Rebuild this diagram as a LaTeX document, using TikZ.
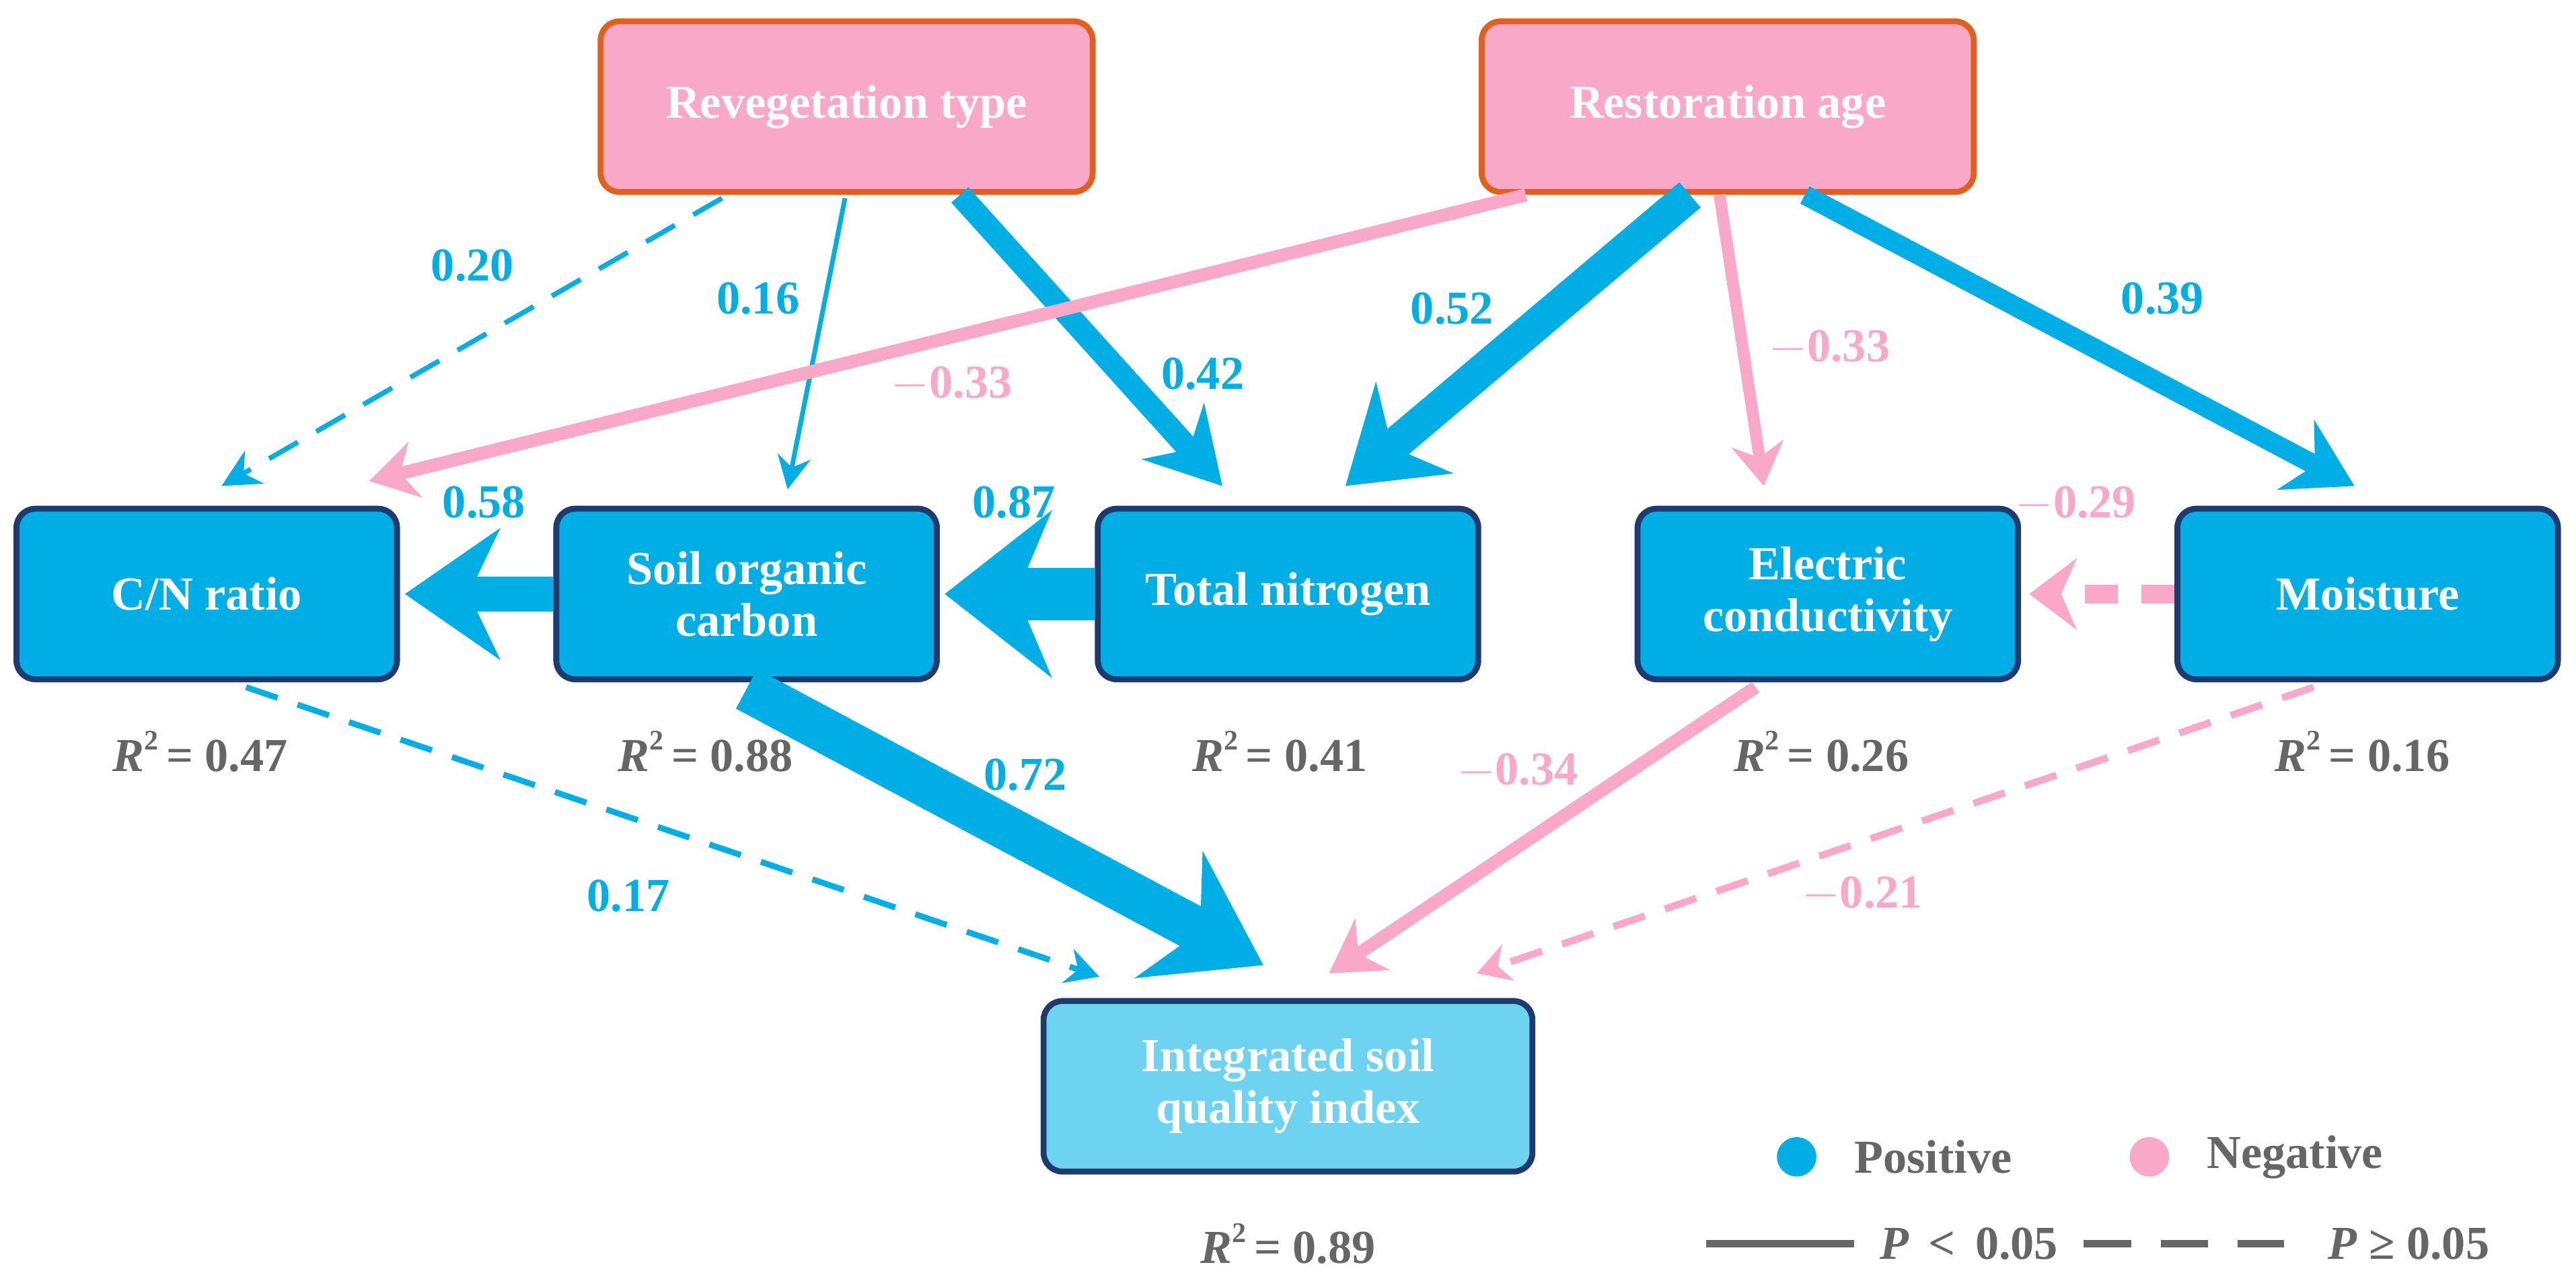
\documentclass[tikz,border=0pt]{standalone}
\usepackage{fontspec}
\setmainfont{Liberation Serif}
\usetikzlibrary{arrows.meta}
\definecolor{cpos}{HTML}{00AEE6}
\definecolor{cneg}{HTML}{F9A8C8}
\definecolor{pinkfill}{HTML}{F9A8C8}
\definecolor{orng}{HTML}{E0601E}
\definecolor{navy}{HTML}{1F3A6E}
\definecolor{lblue}{HTML}{6DD3F0}
\definecolor{gry}{HTML}{666666}
\newcommand{\rsq}[1]{\textit{R}\raisebox{0.45em}{\fontsize{12}{12}\selectfont 2}\,= #1}
\begin{document}
\begin{tikzpicture}[x=0.0244cm,y=-0.0244cm,
  box/.style={draw=navy,line width=2.5pt,rounded corners=8pt,fill=cpos,minimum width=232*0.694pt,minimum height=104*0.694pt,text=white,font=\bfseries\fontsize{20}{22}\selectfont,align=center},
  top/.style={box,draw=orng,fill=pinkfill,minimum width=300*0.694pt},
  rr/.style={text=gry,font=\bfseries\fontsize{20}{22}\selectfont},
  pl/.style={text=cpos,font=\bfseries\fontsize{20}{22}\selectfont},
  nl/.style={text=cneg,font=\bfseries\fontsize{20}{22}\selectfont},
  dsh/.style={dash pattern=on 14pt off 9pt}]
\useasboundingbox (0,0) rectangle (1570,778);
\node[top] (rt) at (516,65) {Revegetation type};
\node[top] (ra) at (1053,65) {Restoration age};
\node[box] (cn) at (126,362) {C/N ratio};
\node[box] (soc) at (455,362) {Soil organic\\carbon};
\node[box] (tn) at (785,362) {Total nitrogen};
\node[box] (ec) at (1114,362) {Electric\\conductivity};
\node[box] (mo) at (1443,362) {Moisture};
\node[box,fill=lblue,minimum width=298*0.694pt] (isq) at (785,662) {Integrated soil\\quality index};
% arrows
\draw[cpos,line width=2.1pt,dsh,-{Stealth[length=16pt,width=16pt]}] ([shift={(-76,2)}]rt.south) -- ([shift={(9,-12)}]cn.north);
\draw[cpos,line width=2pt,-{Stealth[length=14pt,width=14pt]}] ([shift={(-1,2)}]rt.south) -- ([shift={(25,-10)}]soc.north);
\draw[cpos,line width=9.7pt,-{Stealth[length=31pt,width=35pt]}] ([shift={(69,0)}]rt.south) -- ([shift={(-40,-12)}]tn.north);
\draw[cneg,line width=5.5pt,-{Stealth[length=20pt,width=24pt]}] ([shift={(-123,0)}]ra.south) -- ([shift={(99,-15)}]cn.north);
\draw[cpos,line width=14pt,-{Stealth[length=38pt,width=50pt]}] ([shift={(-23,0)}]ra.south) -- ([shift={(35,-12)}]tn.north);
\draw[cneg,line width=5pt,-{Stealth[length=18pt,width=22pt]}] ([shift={(-5,0)}]ra.south) -- ([shift={(-39,-12)}]ec.north);
\draw[cpos,line width=8.3pt,-{Stealth[length=28pt,width=33pt]}] ([shift={(47,0)}]ra.south) -- ([shift={(-8,-12)}]mo.north);
\draw[cpos,line width=15pt,-{Stealth[length=40pt,width=55pt]}] (soc.west) -- ([shift={(3,0)}]cn.east);
\draw[cpos,line width=22pt,-{Stealth[length=45pt,width=70pt]}] (tn.west) -- ([shift={(3,0)}]soc.east);
\draw[cneg,line width=8pt,dash pattern=on 14pt off 10pt,-{Stealth[length=20pt,width=30pt]}] (mo.west) -- ([shift={(5,0)}]ec.east);
\draw[cpos,line width=2.5pt,dsh,-{Stealth[length=14pt,width=15pt]}] ([shift={(24,3)}]cn.south) -- ([shift={(-115,-13)}]isq.north);
\draw[cpos,line width=19pt,-{Stealth[length=45pt,width=60pt]}] ([shift={(0,4)}]soc.south) -- ([shift={(-15,-20)}]isq.north);
\draw[cneg,line width=5.5pt,-{Stealth[length=22pt,width=26pt]}] ([shift={(-44,3)}]ec.south) -- ([shift={(25,-15)}]isq.north);
\draw[cneg,line width=3pt,dsh,-{Stealth[length=14pt,width=16pt]}] ([shift={(-33,3)}]mo.south) -- ([shift={(115,-15)}]isq.north);
% R2
\foreach \n/\x/\v in {r1/122/0.47,r2/430/0.88,r3/780/0.41,r4/1110/0.26,r5/1440/0.16}
  \node[rr] (\n) at (\x,458) {\rsq{\v}};
\node[rr] (r6) at (785,758) {\rsq{0.89}};
% labels
\node[pl] (l1) at (288,162) {0.20};
\node[pl] (l2) at (462,182) {0.16};
\node[pl] (l3) at (733,228) {0.42};
\node[nl] (l4) at (580,234) {$-$0.33};
\node[pl] (l5) at (885,188) {0.52};
\node[nl] (l6) at (1115,212) {$-$0.33};
\node[pl] (l7) at (1318,182) {0.39};
\node[pl] (l8) at (295,306) {0.58};
\node[pl] (l9) at (618,306) {0.87};
\node[nl] (l10) at (1265,307) {$-$0.29};
\node[pl] (l11) at (383,546) {0.17};
\node[pl] (l12) at (625,472) {0.72};
\node[nl] (l13) at (925,470) {$-$0.34};
\node[nl] (l14) at (1135,545) {$-$0.21};
% legend
\fill[cpos] (1095,705) circle (12);
\node[rr,anchor=west] (lp) at (1125,705) {Positive};
\fill[cneg] (1310,705) circle (12);
\node[rr,anchor=west] (ln) at (1340,705) {Negative};
\coordinate (a1) at (1040,758); \coordinate (a2) at (1130,758);
\draw[gry,line width=3pt] (a1) -- (a2);
\node[rr] (ps) at (1200,758) {\textit{P} \,<\, 0.05};
\coordinate (b1) at (1270,758); \coordinate (b2) at (1392,758);
\draw[gry,line width=3pt,dash pattern=on 20pt off 12.5pt] (b1) -- (b2);
\node[rr] (pd) at (1468,758) {\textit{P} ≥ 0.05};
\end{tikzpicture}
\end{document}
